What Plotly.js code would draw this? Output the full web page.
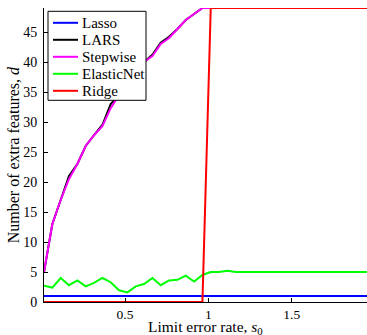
<!DOCTYPE html>
<html>
<head>
<meta charset="utf-8">
<script src="https://cdn.plot.ly/plotly-3.0.1.min.js"></script>
<style>html,body{margin:0;padding:0;background:#fff;}#chart{width:367px;height:335px;}</style>
</head>
<body>
<div id="chart"></div>
<script>
// limit error rate s0 (0.014 + 0.05k, k = 0..39)
const s0 = [0.014,0.064,0.114,0.164,0.214,0.264,0.314,0.364,0.414,0.464,
            0.514,0.564,0.614,0.664,0.714,0.764,0.814,0.864,0.914,0.964,
            1.014,1.064,1.114,1.164,1.214,1.264,1.314,1.364,1.414,1.464,
            1.514,1.564,1.614,1.664,1.714,1.764,1.814,1.864,1.914,1.964];
const lasso = [1,1,1,1,1,1,1,1,1,1, 1,1,1,1,1,1,1,1,1,1,
               1,1,1,1,1,1,1,1,1,1, 1,1,1,1,1,1,1,1,1,1];
const lars = [5,13,17,21,23,26,27.8,29.5,33,34.5, 36.3,38,40,41.2,43.2,44.2,45.5,47,48,49,
              49,49,49,49,49,49,49,49,49,49, 49,49,49,49,49,49,49,49,49,49];
const stepwise = [5,13,17,20.5,23,26,27.8,29.3,32.3,34.5, 36.3,38,40,41,43,44,45.5,47,48,49,
                  49,49,49,49,49,49,49,49,49,49, 49,49,49,49,49,49,49,49,49,49];
const elasticNet = [2.7,2.4,4,2.8,3.6,2.6,3.2,4,3.3,1.95, 1.6,2.6,3,4,2.8,3.6,3.7,4.4,3.4,4.5,
                    5,5,5.2,5,5,5,5,5,5,5, 5,5,5,5,5,5,5,5,5,5];
const ridge = [0,0,0,0,0,0,0,0,0,0, 0,0,0,0,0,0,0,0,0,0,
               49,49,49,49,49,49,49,49,49,49, 49,49,49,49,49,49,49,49,49,49];
const seriesNames = ["Lasso","LARS","Stepwise","ElasticNet","Ridge"];
const seriesColors = ["#0000ff","#000000","#ff00ff","#00ff00","#ff0000"];
const seriesData = [lasso, lars, stepwise, elasticNet, ridge];
const xTicks = [0.5, 1, 1.5];
const yTicks = [0,5,10,15,20,25,30,35,40,45];
const xTitle = "Limit error rate, <i>s</i><sub>0</sub>";
const yTitle = "Number of extra features, <i>d</i>";

const font = "'Liberation Serif', 'Times New Roman', serif";
const W = 367, H = 335, ML = 44, MR = 0, MT = 7.7, MB = 33.3;
const PW = W - ML - MR, PH = H - MT - MB;
const px = v => (v - ML) / PW;           // pixel x -> paper
const py = v => (H - MB - v) / PH;       // pixel y -> paper

const traces = seriesNames.map((n,i)=>({
  x: s0, y: seriesData[i], type: "scatter", mode: "lines", name: n,
  line: {color: seriesColors[i], width: 2}, hoverinfo: "skip"
}));

// legend drawn as a box with line samples and labels
const legBox = {x0: 48, x1: 146, y0: 11, y1: 100};
const rowY0 = 22.5, rowStep = 17;
const shapes = [{type: "rect", xref: "paper", yref: "paper",
  x0: px(legBox.x0), x1: px(legBox.x1), y0: py(legBox.y1), y1: py(legBox.y0),
  fillcolor: "#fff", line: {color: "#000", width: 1}, layer: "above"}];
const annotations = [];
seriesNames.forEach((n,i)=>{
  const yy = rowY0 + i*rowStep;
  shapes.push({type: "line", xref: "paper", yref: "paper",
    x0: px(53), x1: px(78), y0: py(yy), y1: py(yy),
    line: {color: seriesColors[i], width: 2}, layer: "above"});
  annotations.push({xref: "paper", yref: "paper", x: px(80), y: py(yy),
    xanchor: "left", yanchor: "middle", showarrow: false, text: n,
    font: {family: font, size: 15, color: "#000"}});
});
// axis titles
annotations.push({xref: "paper", yref: "paper", x: px(205), y: py(327),
  xanchor: "center", yanchor: "middle", showarrow: false, text: xTitle, borderpad: 0,
  font: {family: font, size: 15.5, color: "#000"}});
annotations.push({xref: "paper", yref: "paper", x: px(13), y: py(155),
  xanchor: "center", yanchor: "middle", showarrow: false, text: yTitle, textangle: -90,
  font: {family: font, size: 16, color: "#000"}});

const layout = {
  width: W, height: H,
  margin: {l: ML, r: MR, t: MT, b: MB},
  paper_bgcolor: "#fff", plot_bgcolor: "#fff",
  font: {family: font, size: 14, color: "#000"},
  showlegend: false,
  shapes: shapes, annotations: annotations,
  xaxis: {range: [0.014, 1.951], tickvals: xTicks, ticktext: xTicks.map(String),
          ticks: "inside", ticklen: 4, tickcolor: "#000", showgrid: false, zeroline: false,
          showline: true, linecolor: "#000", linewidth: 1,
          tickfont: {family: font, size: 13.5, color: "#000"}},
  yaxis: {range: [0, 49], tickvals: yTicks, ticktext: yTicks.map(String),
          ticks: "inside", ticklen: 4, tickcolor: "#000", showgrid: false, zeroline: false,
          showline: true, linecolor: "#000", linewidth: 1,
          tickfont: {family: font, size: 14, color: "#000"}, ticklabelstandoff: 3}
};
Plotly.newPlot("chart", traces, layout, {displayModeBar: false, staticPlot: true});
</script>
</body>
</html>
